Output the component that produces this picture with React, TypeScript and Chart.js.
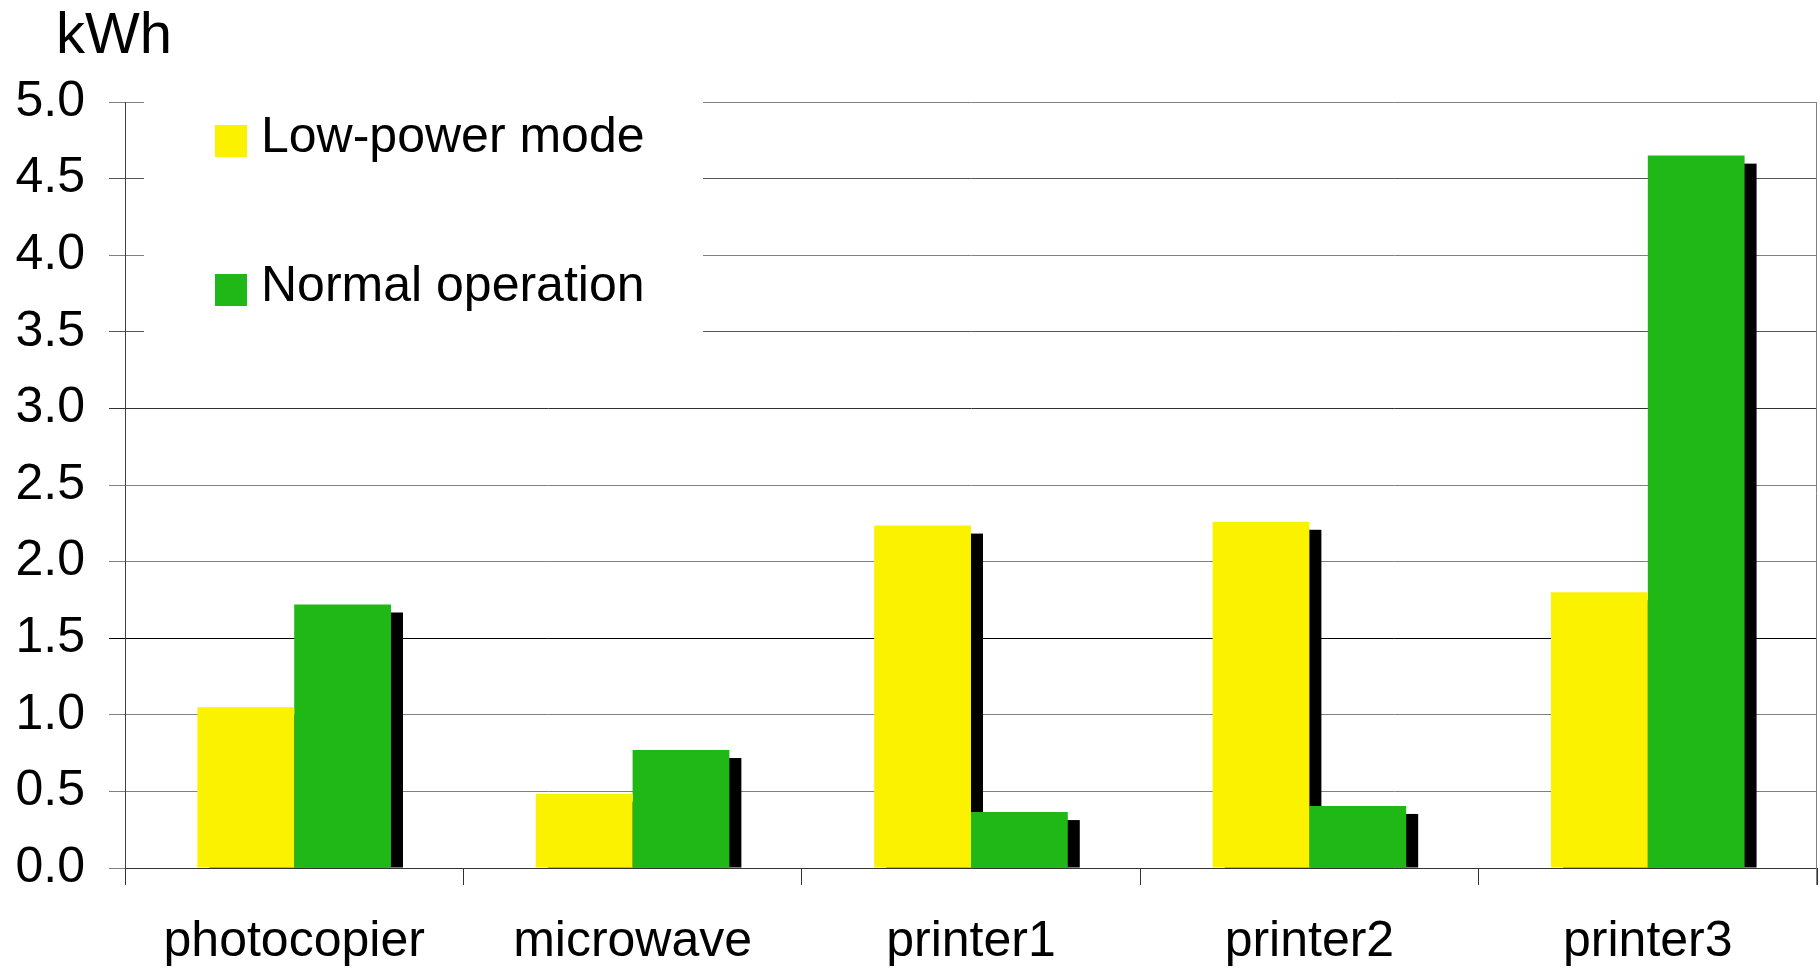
import { useEffect, useRef } from 'react';
import { Chart, registerables } from 'chart.js';

Chart.register(...registerables);

// Energy use per device, kWh
const categories = ['photocopier', 'microwave', 'printer1', 'printer2', 'printer3'];
const lowPowerMode = [1.05, 0.485, 2.235, 2.26, 1.8];
const normalOperation = [1.72, 0.77, 0.365, 0.405, 4.65];
const seriesNames = ['Low-power mode', 'Normal operation'];
const seriesColors = ['#FBF200', '#1FB816'];
const unitLabel = 'kWh';
const yMin = 0;
const yMax = 5;
const yStep = 0.5;

const FONT = '"Liberation Sans", Arial, Helvetica, sans-serif';

// grid shades vary slightly per line
const gridColor = (value: number) => {
  if (value === 1.5) return '#000000';
  if (value === 3.0) return '#303030';
  if (value === 3.5 || value === 4.5) return '#555555';
  return '#808080';
};

const decorPlugin = {
  id: 'decor',
  beforeDatasetsDraw(chart: any) {
    const { ctx, chartArea } = chart;
    ctx.save();
    // white legend panel laid over the grid
    ctx.fillStyle = '#ffffff';
    ctx.fillRect(chartArea.left + 19, chartArea.top - 12, 559, 280);

    // drop shadows behind each bar
    ctx.fillStyle = '#000000';
    chart.data.datasets.forEach((_: any, i: number) => {
      const meta = chart.getDatasetMeta(i);
      meta.data.forEach((bar: any) => {
        const { x, y, base, width } = bar.getProps(['x', 'y', 'base', 'width'], true);
        const top = y + 8;
        if (base > top) ctx.fillRect(x - width / 2 + 12, top, width, base - top);
      });
    });
    ctx.restore();
  },
  afterDraw(chart: any) {
    const { ctx, chartArea } = chart;
    ctx.save();
    // right frame edge
    ctx.strokeStyle = '#808080';
    ctx.lineWidth = 1;
    ctx.beginPath();
    ctx.moveTo(chartArea.right - 0.5, chartArea.top);
    ctx.lineTo(chartArea.right - 0.5, chartArea.bottom + 17);
    ctx.stroke();

    // unit label
    ctx.fillStyle = '#000000';
    ctx.textAlign = 'left';
    ctx.textBaseline = 'alphabetic';
    ctx.font = `58px ${FONT}`;
    ctx.fillText(unitLabel, 56, 53);

    // legend
    ctx.font = `50px ${FONT}`;
    const rows = [125, 274];
    seriesNames.forEach((name, i) => {
      ctx.fillStyle = seriesColors[i];
      ctx.fillRect(215, rows[i], 32, 32);
      ctx.fillStyle = '#000000';
      ctx.fillText(name, 261, rows[i] + 27);
    });
    ctx.restore();
  },
};

export default function App() {
  const canvasRef = useRef<HTMLCanvasElement | null>(null);

  useEffect(() => {
    if (!canvasRef.current) return;
    const chart = new Chart(canvasRef.current, {
      type: 'bar',
      data: {
        labels: categories,
        datasets: [
          {
            label: seriesNames[0],
            data: lowPowerMode,
            backgroundColor: seriesColors[0],
            borderWidth: 0,
            categoryPercentage: 0.572,
            barPercentage: 1,
          },
          {
            label: seriesNames[1],
            data: normalOperation,
            backgroundColor: seriesColors[1],
            borderWidth: 0,
            categoryPercentage: 0.572,
            barPercentage: 1,
          },
        ],
      },
      options: {
        animation: false,
        responsive: true,
        maintainAspectRatio: false,
        layout: { padding: { top: 102, right: 3, left: 0, bottom: 0 } },
        plugins: {
          legend: { display: false },
          tooltip: { enabled: false },
          title: { display: false },
        },
        scales: {
          x: {
            grid: {
              display: true,
              drawOnChartArea: false,
              drawTicks: true,
              tickLength: 17,
              tickColor: '#333333',
              offset: true,
            },
            border: { display: true, color: '#333333', width: 1 },
            ticks: {
              color: '#000000',
              padding: 27,
              font: { family: FONT, size: 50 },
              maxRotation: 0,
              autoSkip: false,
            },
            afterFit: (scale: any) => {
              scale.height = 100;
            },
          },
          y: {
            min: yMin,
            max: yMax,
            grid: {
              color: (c: any) => gridColor(c.tick ? c.tick.value : 0),
              tickLength: 16,
              lineWidth: 1,
            },
            border: { display: true, color: '#404040', width: 1 },
            ticks: {
              stepSize: yStep,
              color: '#000000',
              padding: 24,
              font: { family: FONT, size: 50 },
              callback: (v: any) => Number(v).toFixed(1),
            },
            afterFit: (scale: any) => {
              scale.width = 125;
            },
          },
        },
      },
      plugins: [decorPlugin],
    });
    return () => chart.destroy();
  }, []);

  return (
    <div
      style={{
        position: 'fixed',
        left: 0,
        top: 0,
        width: 1820,
        height: 968,
        background: '#ffffff',
      }}
    >
      <canvas ref={canvasRef} />
    </div>
  );
}
